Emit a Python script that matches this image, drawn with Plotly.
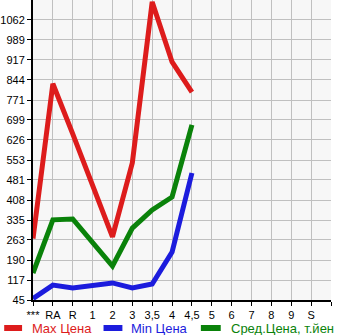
import plotly.graph_objects as go

categories = ["***", "RA", "R", "1", "2", "3", "3,5", "4", "4,5", "5", "6", "7", "8", "9", "S"]
max_price = [268, 830, 648, 459, 274, 543, 1127, 909, 800]
min_price = [50, 99, 89, 96, 107, 89, 103, 219, 506]
avg_price = [143, 336, 339, 256, 168, 306, 372, 419, 681]
y_ticks = [45, 117, 190, 263, 335, 408, 481, 553, 626, 699, 771, 844, 917, 989, 1062]

series = [
    ("Max Цена", max_price, "#dd1c1c"),
    ("Min Цена", min_price, "#1c1cdd"),
    ("Сред.Цена, т.йен", avg_price, "#0a820a"),
]

xs = list(range(len(max_price)))

fig = go.Figure()
for name, vals, color in series:
    fig.add_trace(go.Scatter(x=xs, y=vals, mode="lines", name=name,
                             line=dict(color=color, width=5), showlegend=False))

# plot area geometry (pixels)
L, R, T, B = 31, 331, 0, 300
W, H = R - L, B - T


def px(xp):
    return (xp - L) / W


def py(yp):
    return (B - yp) / H


FONT = "Liberation Sans"
legend_y = 328
legend_items = [(0, 22, 29), (100, 123, 129), (198, 222, 229)]
for (name, vals, color), (x0, x1, xt) in zip(series, legend_items):
    fig.add_shape(type="line", xref="paper", yref="paper",
                  x0=px(x0 + 2), x1=px(x1 - 2), y0=py(legend_y), y1=py(legend_y),
                  line=dict(color=color, width=6))
    fig.add_annotation(xref="paper", yref="paper", x=px(xt), y=py(legend_y),
                       xanchor="left", yanchor="middle", text=name, showarrow=False,
                       xshift=-1,
                       font=dict(size=13, color=color, family=FONT))

step = y_ticks[1] - y_ticks[0]
fig.update_layout(
    width=345, height=335,
    margin=dict(l=L, r=345 - R, t=T, b=335 - B),
    paper_bgcolor="white",
    plot_bgcolor="#f7f7f7",
    font=dict(family=FONT, size=11, color="black"),
    showlegend=False,
    xaxis=dict(range=[0, 15], tickvals=list(range(16)), ticktext=categories + [""],
               showgrid=True, gridcolor="#c0c0c0", gridwidth=1,
               showline=True, linecolor="black", linewidth=2,
               ticks="outside", ticklen=4, tickcolor="black",
               zeroline=False, fixedrange=True, tickfont=dict(size=11)),
    yaxis=dict(range=[45, 1062 + step], tickvals=y_ticks,
               showgrid=True, gridcolor="#c0c0c0", gridwidth=1,
               showline=True, linecolor="black", linewidth=2,
               ticks="outside", ticklen=4, tickcolor="black",
               zeroline=False, fixedrange=True, tickfont=dict(size=11)),
)

fig.write_html("out.html")
